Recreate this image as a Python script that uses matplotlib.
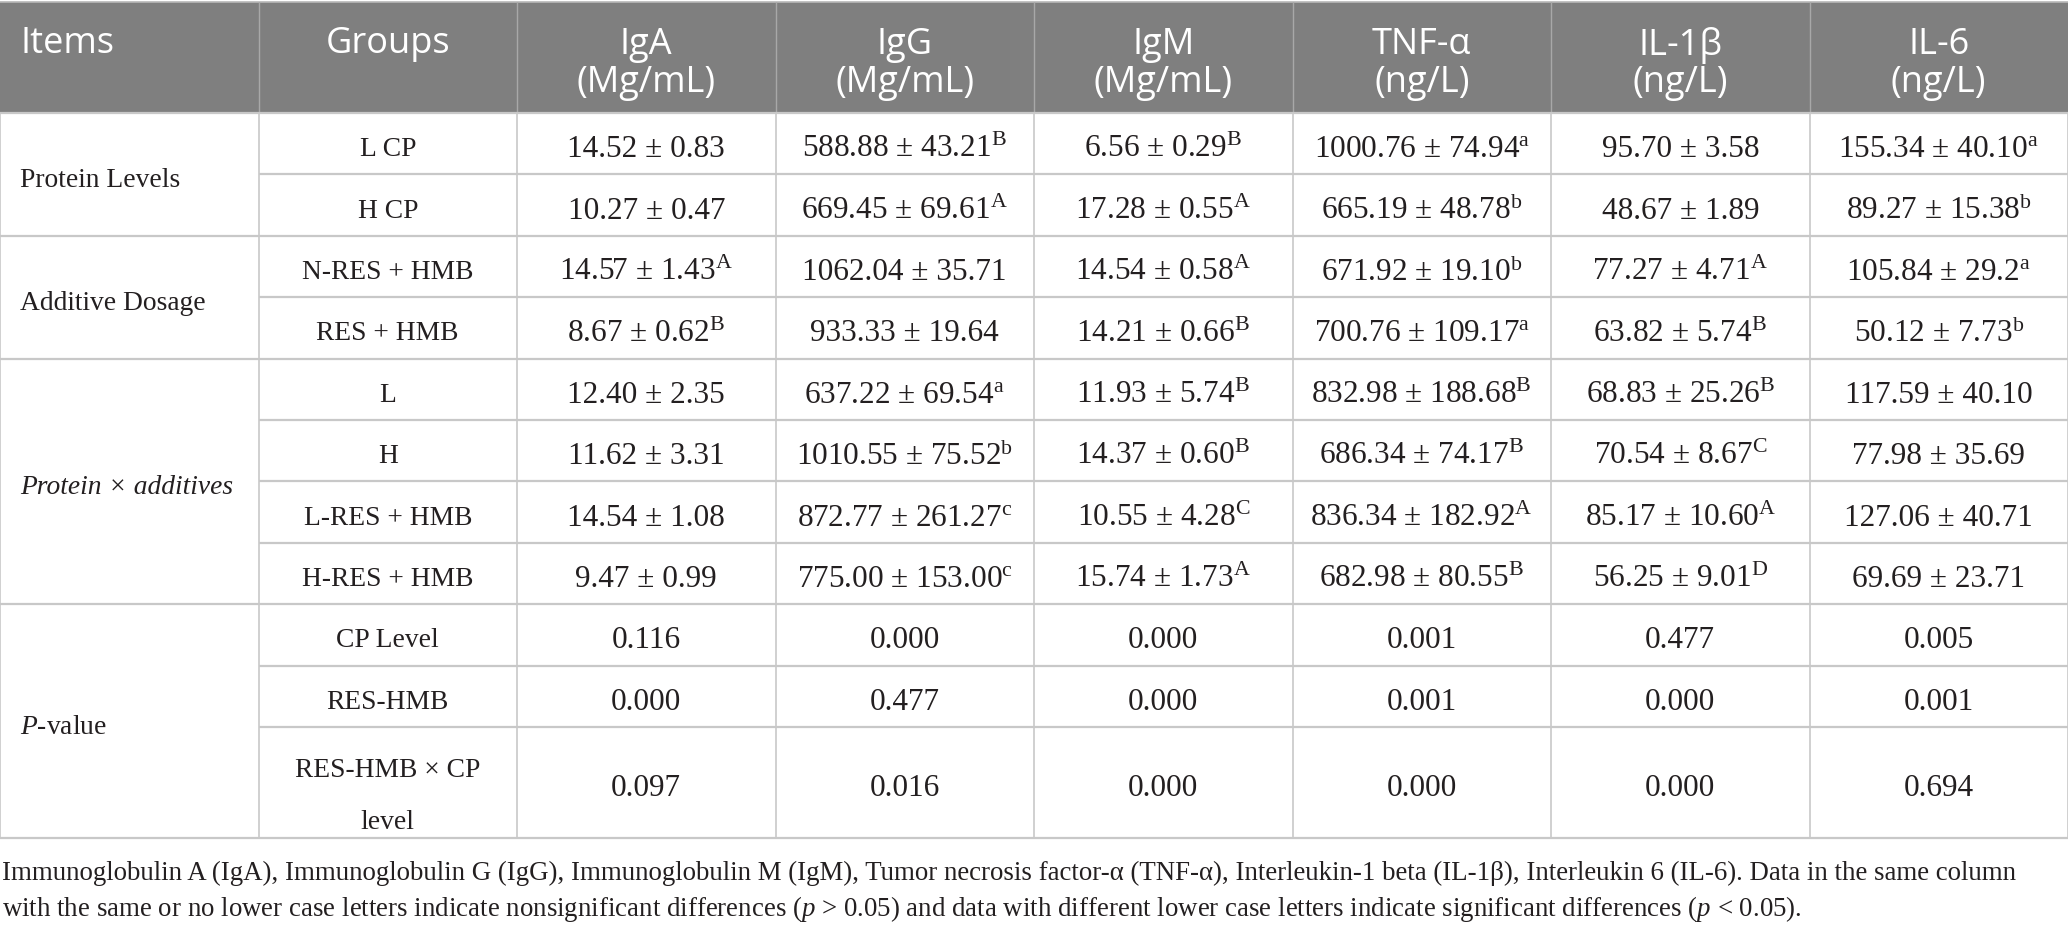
import matplotlib
matplotlib.use('agg')
import matplotlib.pyplot as plt

plt.rcParams['mathtext.fontset'] = 'custom'
plt.rcParams['mathtext.rm'] = 'Liberation Serif'
plt.rcParams['mathtext.it'] = 'Liberation Serif:italic'

#########
# Data  #
#########

headers = ["Items", "Groups", "IgA\n(Mg/mL)", "IgG\n(Mg/mL)", "IgM\n(Mg/mL)",
           "TNF-α\n(ng/L)", "IL-1β\n(ng/L)", "IL-6\n(ng/L)"]

items = ["Protein Levels", "Additive Dosage", "Protein × additives", "$P$-value"]
item_rows = [2, 2, 4, 3]          # how many group rows each item spans
item_italic = [False, False, True, False]

groups = ["L CP", "H CP", "N-RES + HMB", "RES + HMB", "L", "H", "L-RES + HMB",
          "H-RES + HMB", "CP Level", "RES-HMB", "RES-HMB × CP\nlevel"]

iga = ["14.52 ± 0.83", "10.27 ± 0.47", "14.57 ± 1.43", "8.67 ± 0.62", "12.40 ± 2.35",
       "11.62 ± 3.31", "14.54 ± 1.08", "9.47 ± 0.99", "0.116", "0.000", "0.097"]
iga_sup = ["", "", "A", "B", "", "", "", "", "", "", ""]

igg = ["588.88 ± 43.21", "669.45 ± 69.61", "1062.04 ± 35.71", "933.33 ± 19.64",
       "637.22 ± 69.54", "1010.55 ± 75.52", "872.77 ± 261.27", "775.00 ± 153.00",
       "0.000", "0.477", "0.016"]
igg_sup = ["B", "A", "", "", "a", "b", "c", "c", "", "", ""]

igm = ["6.56 ± 0.29", "17.28 ± 0.55", "14.54 ± 0.58", "14.21 ± 0.66", "11.93 ± 5.74",
       "14.37 ± 0.60", "10.55 ± 4.28", "15.74 ± 1.73", "0.000", "0.000", "0.000"]
igm_sup = ["B", "A", "A", "B", "B", "B", "C", "A", "", "", ""]

tnf = ["1000.76 ± 74.94", "665.19 ± 48.78", "671.92 ± 19.10", "700.76 ± 109.17",
       "832.98 ± 188.68", "686.34 ± 74.17", "836.34 ± 182.92", "682.98 ± 80.55",
       "0.001", "0.001", "0.000"]
tnf_sup = ["a", "b", "b", "a", "B", "B", "A", "B", "", "", ""]

il1b = ["95.70 ± 3.58", "48.67 ± 1.89", "77.27 ± 4.71", "63.82 ± 5.74", "68.83 ± 25.26",
        "70.54 ± 8.67", "85.17 ± 10.60", "56.25 ± 9.01", "0.477", "0.000", "0.000"]
il1b_sup = ["", "", "A", "B", "B", "C", "A", "D", "", "", ""]

il6 = ["155.34 ± 40.10", "89.27 ± 15.38", "105.84 ± 29.2", "50.12 ± 7.73",
       "117.59 ± 40.10", "77.98 ± 35.69", "127.06 ± 40.71", "69.69 ± 23.71",
       "0.005", "0.001", "0.694"]
il6_sup = ["a", "b", "a", "b", "", "", "", "", "", "", ""]

footnote = ["Immunoglobulin A (IgA), Immunoglobulin G (IgG), Immunoglobulin M (IgM), "
            "Tumor necrosis factor-α (TNF-α), Interleukin-1 beta (IL-1β), Interleukin 6 (IL-6). "
            "Data in the same column",
            "with the same or no lower case letters indicate nonsignificant differences "
            "($p$ > 0.05) and data with different lower case letters indicate significant "
            "differences ($p$ < 0.05)."]

##########
# Layout #
##########

W, H = 2068, 929
col_w = W / 8.0
head_top, head_bot = 3, 114
row_h = [61.4] * 10 + [111]
head_col = '#7f7f7f'
line_col = '#c8c8c8'
txt_col = '#231f20'
serif = ['Liberation Serif', 'DejaVu Serif']
sans = ['Open Sans', 'DejaVu Sans']
body_fs = 22.5
label_fs = 19.8
head_fs = 26
foot_fs = 19.4

fig = plt.figure(figsize=(W / 100, H / 100), dpi=100)
ax = fig.add_axes([0, 0, 1, 1])
ax.set_xlim(0, W)
ax.set_ylim(H, 0)
ax.axis('off')

# header band
ax.fill_between([0, W], head_top, head_bot, color=head_col, lw=0)
ax.hlines(head_top, 0, W, color='#b8b8b8', lw=1.2)
for i in range(1, 8):
    ax.vlines(i * col_w, head_top, head_bot, color='#a8a8a8', lw=1.0)

for i, h in enumerate(headers):
    if '\n' in h:
        ax.text((i + 0.5) * col_w, 64, h, color='white', fontsize=head_fs, family=sans,
                ha='center', va='center', linespacing=1.05)
    elif i == 0:
        ax.text(20, 44, h, color='white', fontsize=head_fs, family=sans,
                ha='left', va='center')
    else:
        ax.text((i + 0.5) * col_w, 44, h, color='white', fontsize=head_fs, family=sans,
                ha='center', va='center')

# row boundaries
edges = [head_bot]
for h in row_h:
    edges.append(edges[-1] + h)
table_bot = edges[-1]

# grid lines
for i in range(0, 9):
    ax.vlines(i * col_w, head_bot, table_bot, color=line_col, lw=1.2)
for e in edges:
    ax.hlines(e, col_w, W, color=line_col, lw=1.6)
k = 0
ax.hlines(edges[0], 0, col_w, color=line_col, lw=1.6)
for n in item_rows:
    k += n
    ax.hlines(edges[k], 0, col_w, color=line_col, lw=1.6)

# items column
k = 0
for name, n, it in zip(items, item_rows, item_italic):
    yc = (edges[k] + edges[k + n]) / 2
    ax.text(20, yc + 5, name, fontsize=label_fs, family=serif, ha='left', va='center',
            style='italic' if it else 'normal', color=txt_col)
    k += n

# groups and values
columns = [(iga, iga_sup), (igg, igg_sup), (igm, igm_sup),
           (tnf, tnf_sup), (il1b, il1b_sup), (il6, il6_sup)]
for r in range(len(groups)):
    yc = (edges[r] + edges[r + 1]) / 2 + 5
    gy = yc + 8 if '\n' in groups[r] else yc
    ax.text(1.5 * col_w, gy, groups[r], fontsize=label_fs, family=serif, ha='center',
            va='center', linespacing=2.4, color=txt_col)
    for c, (vals, sups) in enumerate(columns):
        s = vals[r]
        if sups[r]:
            s = s + r'$^{\mathrm{' + sups[r] + '}}$'
        ax.text((c + 2.5) * col_w, yc, s, fontsize=body_fs, family=serif, ha='center',
                va='center', color=txt_col)

# footnote
ax.text(2, 873, footnote[0], fontsize=foot_fs, family=serif, ha='left', va='center',
        color=txt_col)
ax.text(2, 909, footnote[1], fontsize=foot_fs, family=serif, ha='left', va='center',
        color=txt_col)

plt.savefig('out.png', dpi=100)
